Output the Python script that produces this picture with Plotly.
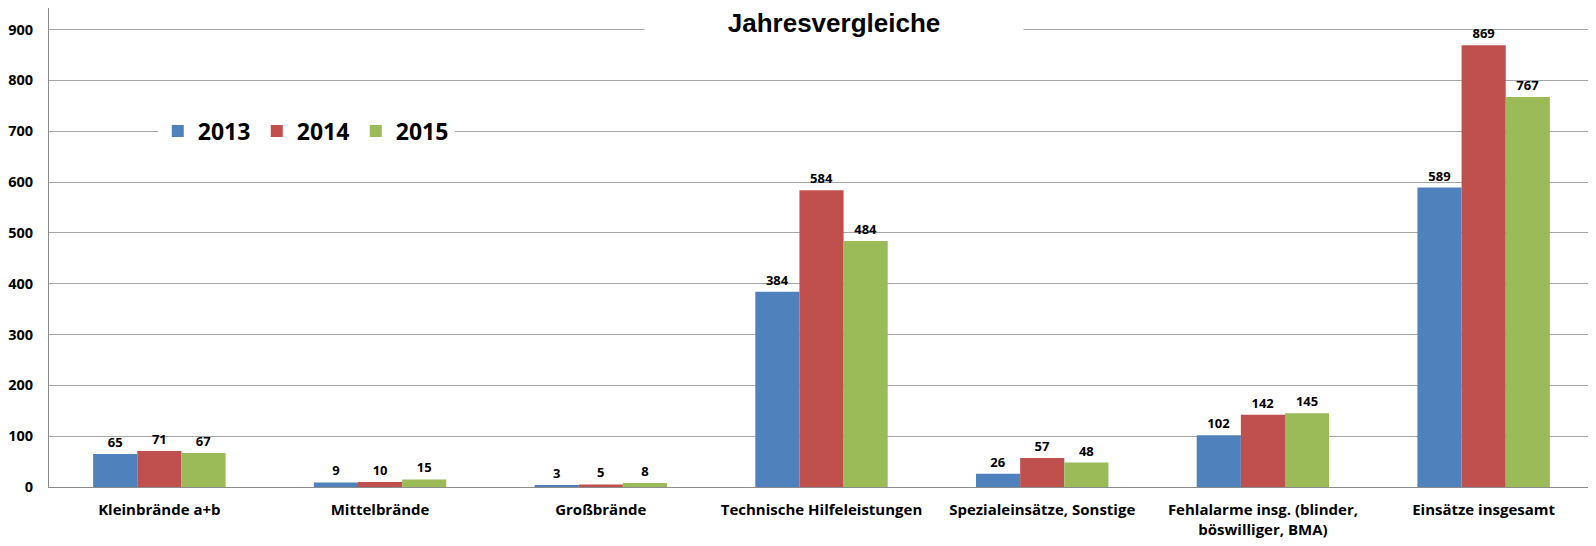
import plotly.graph_objects as go

categories = ["Kleinbrände a+b", "Mittelbrände", "Großbrände", "Technische Hilfeleistungen",
              "Spezialeinsätze, Sonstige", "Fehlalarme insg. (blinder,<br>böswilliger, BMA)", "Einsätze insgesamt"]
v2013 = [65, 9, 3, 384, 26, 102, 589]
v2014 = [71, 10, 5, 584, 57, 142, 869]
v2015 = [67, 15, 8, 484, 48, 145, 767]
series = [("2013", v2013, "#4F81BD"), ("2014", v2014, "#C0504D"), ("2015", v2015, "#9BBB59")]
yticks = [0, 100, 200, 300, 400, 500, 600, 700, 800, 900]

FONT = "Open Sans"
fig = go.Figure()
for name, vals, col in series:
    fig.add_trace(go.Bar(
        x=categories, y=vals, name=name, marker=dict(color=col, line=dict(width=0)),
        text=[str(v) for v in vals], textposition="outside", cliponaxis=False,
        textfont=dict(family=FONT, size=13, color="#000000", weight="bold"),
    ))

fig.update_layout(
    width=1596, height=546,
    margin=dict(l=38, r=10, t=0, b=67),
    paper_bgcolor="white", plot_bgcolor="white",
    barmode="group", bargap=0.4, bargroupgap=0,
    showlegend=True,
    legend=dict(orientation="h", x=0.0704, xanchor="left", y=0.743, yanchor="middle",
                bgcolor="white", font=dict(family=FONT, size=23, color="#000000", weight="bold"),
                entrywidth=54, itemsizing="constant"),
    xaxis=dict(showline=True, linecolor="#8C8C8C", linewidth=1, ticks="",
               ticklabelstandoff=9,
               tickfont=dict(family=FONT, size=15, color="#000000", weight="bold")),
    yaxis=dict(range=[0, 942.3], tickvals=yticks, showgrid=True, gridcolor="#A6A6A6", gridwidth=1,
               showline=True, linecolor="#8C8C8C", linewidth=1, zeroline=False, ticks="",
               ticklabelstandoff=12,
               tickfont=dict(family=FONT, size=14.5, color="#000000", weight="bold")),
    annotations=[dict(text="Jahresvergleiche", xref="paper", yref="paper", x=0.5084, y=0.9687,
                      xanchor="center", yanchor="middle", showarrow=False, bgcolor="white",
                      width=376, height=30,
                      font=dict(family="Liberation Sans", size=26, color="#000000", weight="bold"))],
)
fig.write_html("out.html")
